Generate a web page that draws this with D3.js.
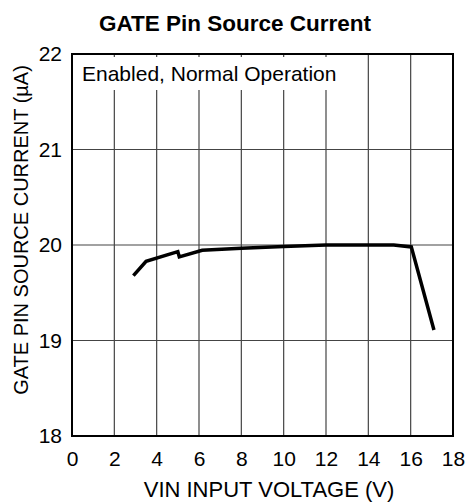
<!DOCTYPE html>
<html>
<head>
<meta charset="utf-8">
<script src="https://cdn.jsdelivr.net/npm/d3@7"></script>
<style>
	body { margin: 0; background: #fff; }
	text { font-family: "Liberation Sans", Arial, sans-serif; fill: #000; }
</style>
</head>
<body>
<svg id="chart" width="468" height="502"></svg>
<script>
// VIN input voltage (V) vs gate pin source current (uA)
const vin = [2.9, 3.5, 5.0, 5.07, 6.15, 8, 10, 12, 15.2, 16.03, 17.1];
const current = [19.68, 19.83, 19.93, 19.875, 19.945, 19.965, 19.985, 20.0, 20.0, 19.98, 19.11];
const xTicks = [0, 2, 4, 6, 8, 10, 12, 14, 16, 18];
const yTicks = [18, 19, 20, 21, 22];

const title = 'GATE Pin Source Current';
const note = 'Enabled, Normal Operation';
const xLabel = 'VIN INPUT VOLTAGE (V)';
const yLabel = 'GATE PIN SOURCE CURRENT (\u00b5A)';

const svg = d3.select('#chart'),
	margin = {top: 54, right: 15, bottom: 66, left: 72},
	width = +svg.attr('width') - margin.left - margin.right,
	height = +svg.attr('height') - margin.top - margin.bottom,
	g = svg.append('g').attr('transform', `translate(${margin.left}, ${margin.top})`);

const x = d3.scaleLinear().domain([0, 18]).range([0, width]),
	y = d3.scaleLinear().domain([18, 22]).range([height, 0]);

// grid
g.append('g')
	.selectAll('line')
	.data(xTicks.slice(1, -1))
	.enter().append('line')
	.attr('x1', d => x(d)).attr('x2', d => x(d))
	.attr('y1', 0).attr('y2', height)
	.attr('stroke', '#444').attr('stroke-width', 1.2);

g.append('g')
	.selectAll('line')
	.data(yTicks.slice(1, -1))
	.enter().append('line')
	.attr('x1', 0).attr('x2', width)
	.attr('y1', d => y(d)).attr('y2', d => y(d))
	.attr('stroke', '#444').attr('stroke-width', 1.2);

// note box covers the grid
g.append('rect')
	.attr('x', 1).attr('y', 3)
	.attr('width', 263).attr('height', 33)
	.attr('fill', '#fff');

g.append('text')
	.attr('x', 10).attr('y', 27)
	.attr('font-size', 21)
	.text(note);

// tick labels
const xAxis = g.append('g')
	.attr('transform', `translate(0, ${height})`)
	.call(d3.axisBottom(x).tickValues(xTicks).tickSize(0).tickPadding(15).tickFormat(d3.format('d')));
xAxis.select('.domain').remove();
xAxis.selectAll('text')
	.attr('font-size', 21)
	.attr('font-family', '"Liberation Sans", Arial, sans-serif');

const yAxis = g.append('g')
	.call(d3.axisLeft(y).tickValues(yTicks).tickSize(0).tickPadding(10).tickFormat(d3.format('d')));
yAxis.select('.domain').remove();
yAxis.selectAll('text')
	.attr('font-size', 21)
	.attr('font-family', '"Liberation Sans", Arial, sans-serif');

// data line
const line = d3.line()
	.x((d, i) => x(vin[i]))
	.y(d => y(d));

g.append('path')
	.datum(current)
	.attr('fill', 'none')
	.attr('stroke', '#000')
	.attr('stroke-width', 3.5)
	.attr('stroke-linejoin', 'miter')
	.attr('d', line);

// frame
g.append('rect')
	.attr('x', 0).attr('y', 0)
	.attr('width', width).attr('height', height)
	.attr('fill', 'none')
	.attr('stroke', '#000')
	.attr('stroke-width', 2);

svg.append('text')
	.attr('x', 235).attr('y', 31)
	.attr('text-anchor', 'middle')
	.attr('font-size', 22.5)
	.attr('font-weight', 'bold')
	.text(title);

svg.append('text')
	.attr('x', 269).attr('y', 497)
	.attr('text-anchor', 'middle')
	.attr('font-size', 22)
	.text(xLabel);

svg.append('text')
	.attr('transform', `translate(28, 230) rotate(-90)`)
	.attr('text-anchor', 'middle')
	.attr('font-size', 20)
	.text(yLabel);
</script>
</body>
</html>
